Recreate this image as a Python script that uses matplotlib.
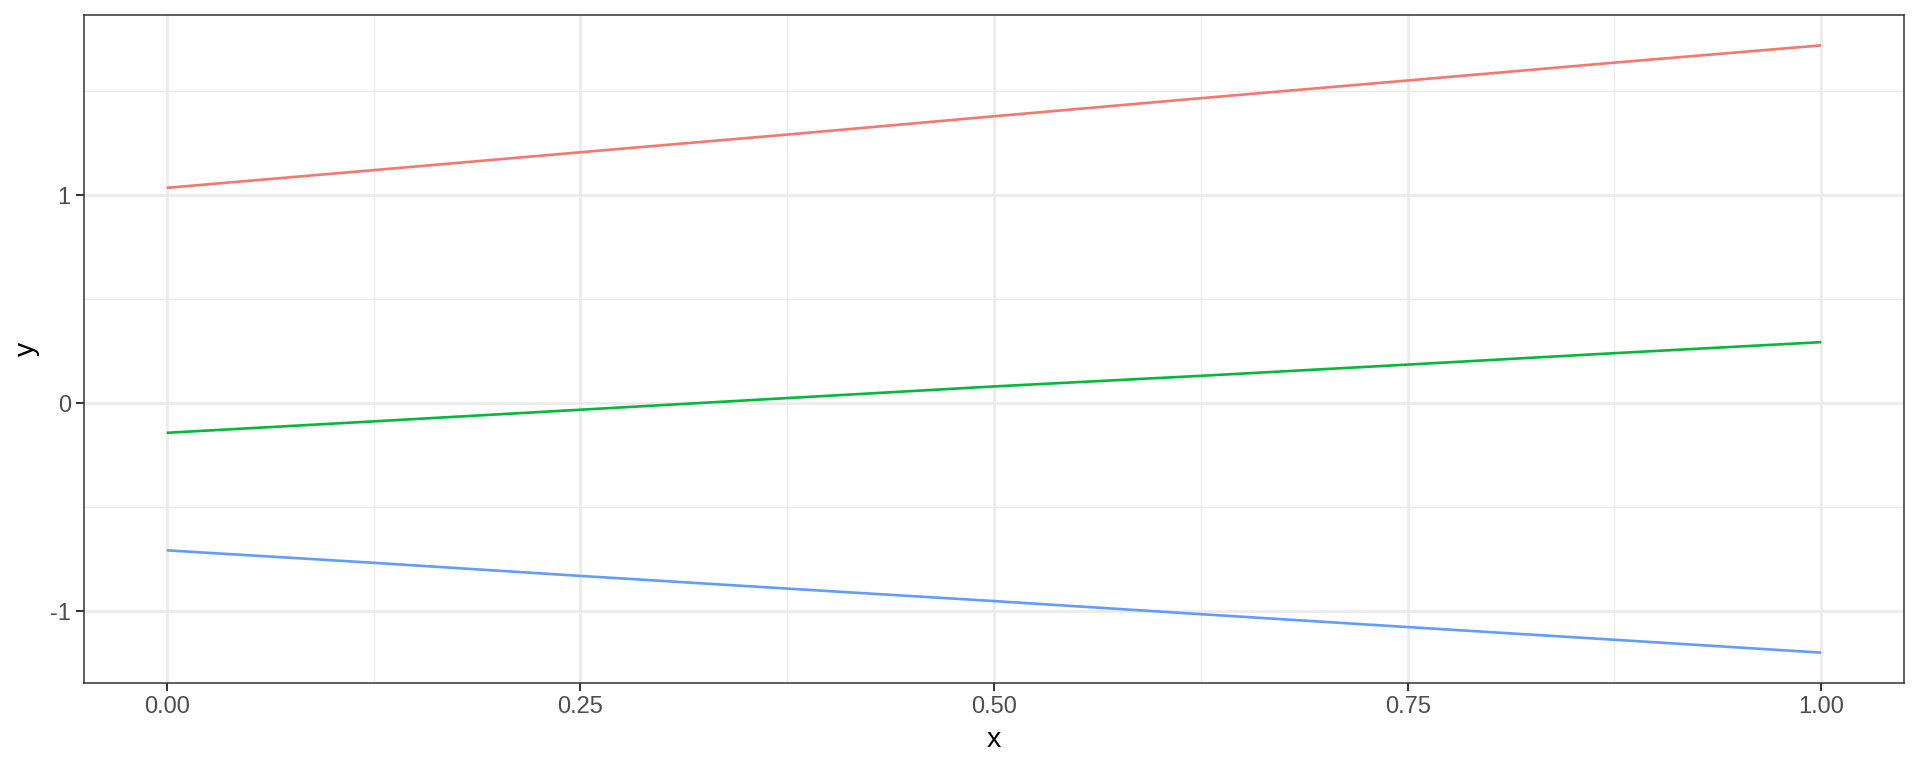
import matplotlib.pyplot as plt
import numpy as np
from matplotlib.ticker import FixedLocator

# values
x = [0.0, 0.125, 0.25, 0.375, 0.5, 0.625, 0.75, 0.875, 1.0]
y_red = [1.035, 1.120, 1.206, 1.291, 1.379, 1.466, 1.551, 1.637, 1.720]
y_green = [-0.143, -0.088, -0.032, 0.024, 0.080, 0.131, 0.185, 0.240, 0.293]
y_blue = [-0.708, -0.768, -0.831, -0.892, -0.952, -1.015, -1.077, -1.138, -1.200]

x_ticks = [0.0, 0.25, 0.5, 0.75, 1.0]
x_tick_labels = ["0.00", "0.25", "0.50", "0.75", "1.00"]
y_ticks = [-1, 0, 1]
y_tick_labels = ["-1", "0", "1"]

plt.rcParams["font.family"] = ["Liberation Sans", "DejaVu Sans"]

fig = plt.figure(figsize=(19.2, 7.68), dpi=100)
ax = fig.add_axes([84 / 1920, 1 - 683 / 768, (1904 - 84) / 1920, (683 - 15) / 768])

ax.plot(x, y_red, color="#F8766D", lw=1.9, solid_capstyle="butt")
ax.plot(x, y_green, color="#00BA38", lw=1.9, solid_capstyle="butt")
ax.plot(x, y_blue, color="#619CFF", lw=1.9, solid_capstyle="butt")

# ggplot-style 5% expansion
allx = np.array(x)
ally = np.concatenate([y_red, y_green, y_blue])
dx = allx.max() - allx.min()
dy = ally.max() - ally.min()
ax.set_xlim(allx.min() - 0.05 * dx, allx.max() + 0.05 * dx)
ax.set_ylim(ally.min() - 0.05 * dy, ally.max() + 0.05 * dy)

ax.set_xticks(x_ticks)
ax.set_xticklabels(x_tick_labels)
ax.set_yticks(y_ticks)
ax.set_yticklabels(y_tick_labels)
ax.xaxis.set_minor_locator(FixedLocator([0.125, 0.375, 0.625, 0.875]))
ax.yaxis.set_minor_locator(FixedLocator([-0.5, 0.5, 1.5]))

ax.grid(which="major", color="#EBEBEB", lw=1.9)
ax.grid(which="minor", color="#EBEBEB", lw=1.0)
ax.set_axisbelow(True)

ax.tick_params(which="major", length=5.5, width=1.4, color="#333333",
               labelcolor="#4D4D4D", labelsize=17, pad=4)
ax.tick_params(which="minor", length=0)
for s in ax.spines.values():
    s.set_color("#333333")
    s.set_linewidth(1.1)

ax.set_xlabel("x", fontsize=20.5, color="black", labelpad=6)
ax.set_ylabel("y", fontsize=20.5, color="black", labelpad=7)

fig.savefig("out.png", dpi=100, facecolor="white")
plt.close(fig)
